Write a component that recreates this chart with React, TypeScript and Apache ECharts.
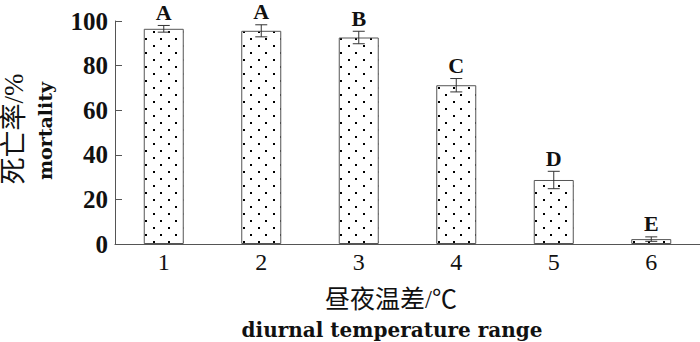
import React, { useEffect, useRef } from "react";
import * as echarts from "echarts";

const categories = ["1", "2", "3", "4", "5", "6"];
const mortality = [96.5, 95.6, 92.6, 71.2, 28.7, 2.2];
const errors = [1.5, 2.7, 2.8, 3.0, 3.9, 1.0];
const letters = ["A", "A", "B", "C", "D", "E"];
const yTicks = [0, 20, 40, 60, 80, 100];

const SERIF = "'Liberation Serif', 'Times New Roman', 'Noto Sans CJK SC', serif";
const WIDE = "'DejaVu Serif', 'Liberation Serif', serif";

function makeDots(): HTMLCanvasElement {
  const c = document.createElement("canvas");
  c.width = 15;
  c.height = 14;
  const ctx = c.getContext("2d")!;
  ctx.fillStyle = "#ffffff";
  ctx.fillRect(0, 0, 15, 14);
  ctx.fillStyle = "#000000";
  ctx.fillRect(3, 3, 2, 2);
  ctx.fillRect(10, 10, 2, 2);
  return c;
}

export default function App() {
  const ref = useRef<HTMLDivElement>(null);
  useEffect(() => {
    if (!ref.current) return;
    const chart = echarts.init(ref.current, undefined, { renderer: "svg" });
    const dots = makeDots();
    chart.setOption({
      animation: false,
      grid: { left: 115, right: 0, top: 21, bottom: 98 },
      xAxis: {
        type: "category",
        data: categories,
        boundaryGap: true,
        axisLine: { lineStyle: { color: "#555", width: 1 } },
        axisTick: { inside: true, length: 7, lineStyle: { color: "#555" } },
        axisLabel: {
          color: "#111",
          fontFamily: SERIF,
          fontSize: 24,
          margin: 6,
        },
      },
      yAxis: {
        type: "value",
        min: 0,
        max: 100,
        interval: 20,
        splitLine: { show: false },
        axisLine: { show: true, lineStyle: { color: "#555", width: 1 } },
        axisTick: { show: true, inside: true, length: 7, lineStyle: { color: "#555" } },
        axisLabel: {
          color: "#111",
          fontFamily: SERIF,
          fontSize: 25,
          fontWeight: "bold",
          margin: 7,
          formatter: (v: number) => (yTicks.includes(v) ? String(v) : ""),
        },
      },
      series: [
        {
          type: "bar",
          data: mortality,
          barWidth: 40,
          itemStyle: {
            color: { image: dots, repeat: "repeat" },
            borderColor: "#555",
            borderWidth: 1,
          },
        },
        {
          type: "custom",
          data: mortality.map((v, i) => [i, v, errors[i]]),
          z: 10,
          renderItem: (params: any, api: any) => {
            const x = api.value(0);
            const v = api.value(1);
            const e = api.value(2);
            const top = api.coord([x, v + e]);
            const bot = api.coord([x, Math.max(v - e, 0)]);
            const hw = 6;
            const st = { stroke: "#333", lineWidth: 1 };
            return {
              type: "group",
              children: [
                { type: "line", shape: { x1: top[0], y1: top[1], x2: bot[0], y2: bot[1] }, style: st },
                { type: "line", shape: { x1: top[0] - hw, y1: top[1], x2: top[0] + hw, y2: top[1] }, style: st },
                { type: "line", shape: { x1: bot[0] - hw, y1: bot[1], x2: bot[0] + hw, y2: bot[1] }, style: st },
                {
                  type: "text",
                  x: top[0],
                  y: top[1] - 13,
                  style: {
                    text: letters[params.dataIndex],
                    fontFamily: SERIF,
                    fontSize: 22,
                    fontWeight: "bold",
                    lineHeight: 18,
                    fill: "#111",
                    align: "center",
                    verticalAlign: "middle",
                  },
                },
              ],
            };
          },
        },
      ],
      graphic: [
        {
          type: "text",
          x: 14,
          y: 129,
          rotation: Math.PI / 2,
          style: {
            text: "死亡率/%",
            fontFamily: SERIF,
            fontSize: 27,
            fill: "#111",
            align: "center",
            verticalAlign: "middle",
          },
        },
        {
          type: "text",
          x: 45,
          y: 131,
          rotation: Math.PI / 2,
          style: {
            text: "mortality",
            fontFamily: WIDE,
            fontSize: 19,
            fontWeight: "bold",
            fill: "#111",
            align: "center",
            verticalAlign: "middle",
          },
        },
        {
          type: "text",
          x: 391,
          y: 299,
          style: {
            text: "昼夜温差/℃",
            fontFamily: SERIF,
            fontSize: 25,
            fill: "#111",
            align: "center",
            verticalAlign: "middle",
          },
        },
        {
          type: "text",
          x: 392,
          y: 330,
          style: {
            text: "diurnal temperature range",
            fontFamily: WIDE,
            fontSize: 20,
            fontWeight: "bold",
            fill: "#111",
            align: "center",
            verticalAlign: "middle",
          },
        },
      ],
    });
    return () => chart.dispose();
  }, []);
  return (
    <div
      ref={ref}
      style={{ position: "fixed", left: 0, top: 0, width: 700, height: 342, background: "#fff" }}
    />
  );
}
